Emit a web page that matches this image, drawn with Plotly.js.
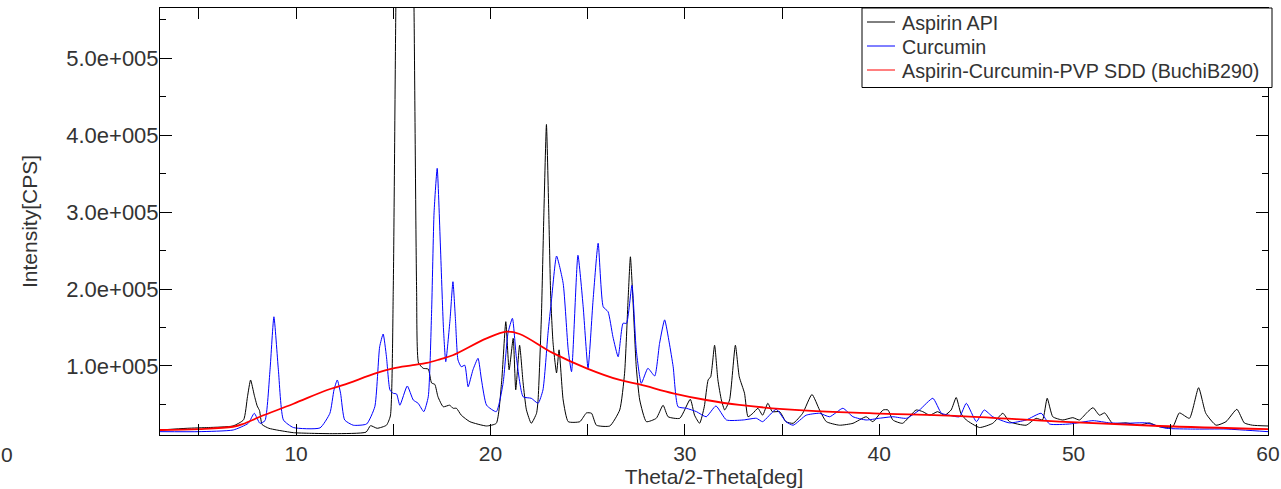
<!DOCTYPE html>
<html>
<head>
<meta charset="utf-8">
<script src="https://cdn.plot.ly/plotly-3.0.1.min.js"></script>
<style>
  html, body { margin: 0; padding: 0; background: #fff; }
  #chart { width: 1281px; height: 489px; }
</style>
</head>
<body>
<div id="chart"></div>
<script>
// ---- Data (2-theta in degrees, intensity in CPS) ----
const seriesNames = ["Aspirin API", "Curcumin", "Aspirin-Curcumin-PVP SDD (BuchiB290)"];
const seriesColors = ["#000000", "#0000ff", "#ff0000"];

const aspirinX = [3.0, 4.4, 5.5, 6.75, 7.3, 7.5, 7.66, 7.85, 8.0, 8.12, 8.25, 8.6, 9.0, 9.86, 10.7, 12.0, 13.6, 13.83, 14.17, 14.65, 14.85, 15.0, 15.13, 15.3, 15.6, 15.9, 16.07, 16.2, 16.3, 16.54, 16.8, 16.97, 17.14, 17.3, 17.57, 17.9, 18.08, 18.25, 18.5, 18.94, 19.8, 20.3, 20.57, 20.79, 20.96, 21.17, 21.3, 21.5, 21.68, 21.85, 22.1, 22.37, 22.45, 22.62, 22.75, 22.88, 23.0, 23.1, 23.22, 23.4, 23.53, 23.74, 24.0, 24.6, 24.94, 25.2, 25.45, 26.14, 26.65, 26.9, 27.08, 27.2, 27.33, 27.5, 27.68, 28.02, 28.53, 28.88, 29.14, 29.74, 30.28, 30.5, 30.76, 31.0, 31.2, 31.33, 31.53, 31.7, 31.88, 32.05, 32.3, 32.6, 32.8, 33.07, 33.25, 33.5, 33.76, 34.0, 34.27, 34.5, 34.88, 35.2, 35.57, 36.06, 36.54, 36.93, 37.28, 37.96, 38.65, 39.33, 39.67, 40.2, 40.45, 40.7, 41.2, 41.9, 42.24, 42.6, 43.0, 43.37, 43.7, 43.96, 44.2, 44.48, 45.16, 45.84, 46.36, 46.7, 47.56, 48.07, 48.4, 48.64, 48.93, 49.44, 49.96, 50.3, 50.73, 51.0, 51.33, 51.6, 52.0, 52.7, 53.4, 53.9, 54.4, 55.1, 55.44, 55.96, 56.43, 56.8, 57.33, 57.84, 58.4, 58.78, 59.2, 60.0];
const aspirinY = [16800, 19000, 20000, 22000, 30000, 60000, 81800, 62000, 48000, 42000, 24000, 19000, 16800, 13300, 12500, 12000, 14000, 22400, 19000, 23000, 35000, 200000, 560000, 900000, 800000, 900000, 560000, 200000, 104000, 97000, 96000, 78000, 76000, 60000, 47000, 49000, 45000, 45000, 36000, 27600, 22000, 25500, 78000, 157600, 95000, 136000, 69000, 127000, 78000, 43000, 25500, 38500, 56000, 164000, 300000, 414000, 300000, 190000, 130000, 91000, 121000, 55800, 27600, 27600, 39000, 38500, 23000, 22000, 42800, 90500, 186000, 242000, 186000, 99000, 55800, 27600, 32000, 49000, 34000, 32000, 56700, 36000, 25500, 47000, 82000, 86000, 127000, 82000, 55800, 42800, 55800, 127000, 86000, 64500, 34000, 38500, 45000, 36000, 51500, 40600, 40600, 27600, 25500, 38500, 63000, 42800, 27600, 23000, 25500, 34000, 27600, 42800, 42800, 29800, 25500, 42800, 40600, 36000, 40600, 36000, 42800, 59000, 38500, 29800, 20000, 25500, 38500, 27600, 23000, 32000, 29800, 58000, 34000, 29800, 32800, 29800, 40600, 45800, 36000, 39000, 25500, 26000, 23000, 26000, 21000, 21000, 39000, 32000, 71800, 38500, 23000, 27600, 43700, 26000, 23000, 22000];

const curcuminX = [3.0, 5.0, 6.77, 7.54, 7.85, 8.14, 8.4, 8.66, 8.86, 9.09, 9.35, 9.86, 11.23, 11.74, 11.95, 12.12, 12.29, 12.5, 12.94, 13.63, 14.05, 14.3, 14.48, 14.65, 14.83, 15.0, 15.17, 15.34, 15.72, 16.03, 16.28, 16.57, 16.8, 16.97, 17.1, 17.26, 17.42, 17.58, 17.7, 17.92, 18.07, 18.2, 18.33, 18.5, 18.68, 18.85, 19.1, 19.36, 19.54, 19.8, 20.3, 20.65, 20.9, 21.13, 21.33, 21.68, 22.1, 22.45, 22.7, 22.96, 23.14, 23.4, 23.74, 24.0, 24.17, 24.5, 24.77, 25.02, 25.28, 25.54, 25.8, 26.05, 26.3, 26.57, 26.82, 27.0, 27.28, 27.5, 27.76, 28.1, 28.45, 28.7, 28.96, 29.2, 29.4, 29.65, 30.08, 30.6, 31.1, 31.6, 32.14, 33.0, 33.68, 34.0, 34.7, 35.2, 35.57, 36.24, 36.93, 37.45, 38.13, 38.65, 39.33, 40.0, 40.7, 41.4, 42.07, 42.76, 43.2, 43.6, 44.13, 44.48, 45.0, 45.4, 45.84, 46.7, 47.56, 48.33, 48.76, 49.8, 51.0, 51.86, 52.7, 53.73, 54.76, 56.13, 57.84, 60.0];
const curcuminY = [14600, 14600, 16800, 25500, 38500, 25500, 28900, 95000, 164000, 95000, 29800, 20000, 19500, 38500, 68800, 81800, 64500, 29800, 23000, 24600, 47000, 125000, 141600, 112000, 68800, 64500, 63600, 49000, 74000, 55800, 51500, 40600, 60000, 168500, 300000, 357000, 260000, 150000, 105600, 160000, 209600, 160000, 107800, 99000, 101000, 73000, 95000, 110000, 81800, 49000, 40600, 77500, 142500, 162000, 112000, 60000, 58000, 51500, 68800, 142500, 186000, 243000, 207500, 121000, 92600, 244000, 177000, 97000, 186000, 259600, 177000, 170600, 138000, 112000, 155500, 155500, 205000, 121000, 77500, 97000, 87000, 129500, 160000, 130000, 99000, 47000, 45000, 40600, 34000, 48000, 29800, 29800, 32000, 27600, 43700, 27600, 23000, 36000, 38500, 34000, 45000, 34000, 29800, 32000, 34000, 32000, 42800, 58000, 38500, 36000, 34000, 51500, 27600, 42800, 34000, 26000, 29800, 38500, 24600, 24600, 28900, 26000, 25500, 26000, 19000, 18000, 18000, 14600];

const sddX = [3.0, 5.0, 6.75, 7.27, 8.14, 9.84, 11.6, 12.4, 14.16, 15.0, 16.0, 16.73, 17.4, 18.06, 19.8, 20.84, 21.5, 23.2, 24.95, 26.65, 27.68, 29.4, 31.1, 32.8, 36.3, 39.7, 44.4, 49.27, 54.4, 60.0];
const sddY = [16800, 18000, 21000, 24600, 34000, 50600, 68800, 75000, 91000, 97000, 101000, 104000, 108700, 114000, 136000, 144600, 141600, 117000, 97000, 81800, 76000, 64500, 55800, 49300, 41900, 38500, 34500, 27600, 22000, 18000];

const yTickVals = [100000, 200000, 300000, 400000, 500000];
const yTickText = ["1.0e+005", "2.0e+005", "3.0e+005", "4.0e+005", "5.0e+005"];
const xTickVals = [10, 20, 30, 40, 50, 60];
const xTickText = ["10", "20", "30", "40", "50", "60"];

// ---- Chart ----
const FONT = "Liberation Sans, Arial, sans-serif";
const TXT = "#333333";
const M = { l: 160, r: 13, t: 8, b: 54 };
const W = 1281, H = 489;
const PW = W - M.l - M.r, PH = H - M.t - M.b;
const px2x = p => (p - M.l) / PW;          // pixel -> paper x
const px2y = p => (H - M.b - p) / PH;      // pixel -> paper y

const traces = [
  { x: aspirinX, y: aspirinY, name: seriesNames[0], type: "scatter", mode: "lines",
    line: { color: seriesColors[0], width: 1, shape: "spline", smoothing: 0.5 } },
  { x: curcuminX, y: curcuminY, name: seriesNames[1], type: "scatter", mode: "lines",
    line: { color: seriesColors[1], width: 1, shape: "spline", smoothing: 0.5 } },
  { x: sddX, y: sddY, name: seriesNames[2], type: "scatter", mode: "lines",
    line: { color: seriesColors[2], width: 1.8, shape: "spline", smoothing: 1 } }
];

// Legend box (drawn with shapes + annotations to match the reference geometry)
const shapes = [
  { type: "rect", xref: "paper", yref: "paper", layer: "above",
    x0: px2x(862), x1: px2x(1272), y0: px2y(87.5), y1: px2y(8),
    line: { color: "#000000", width: 1 }, fillcolor: "#ffffff" }
];
const annotations = [
  { text: "0", xref: "paper", yref: "paper", x: px2x(-1), y: px2y(454),
    xanchor: "left", yanchor: "middle", showarrow: false,
    font: { family: FONT, size: 21, color: TXT } }
];
const rowY = [22, 46, 70];
seriesNames.forEach((nm, i) => {
  shapes.push({ type: "line", xref: "paper", yref: "paper", layer: "above",
    x0: px2x(867), x1: px2x(895), y0: px2y(rowY[i]), y1: px2y(rowY[i]),
    line: { color: seriesColors[i], width: 1 } });
  annotations.push({ text: nm, xref: "paper", yref: "paper",
    x: px2x(900), y: px2y(rowY[i] + 1), xanchor: "left", yanchor: "middle",
    showarrow: false, font: { family: FONT, size: 19.7, color: TXT } });
});

const layout = {
  width: W, height: H,
  margin: { l: M.l, r: M.r, t: M.t, b: M.b, pad: 0 },
  paper_bgcolor: "#ffffff", plot_bgcolor: "#ffffff",
  font: { family: FONT, size: 21, color: TXT },
  showlegend: false,
  xaxis: {
    range: [3, 60], showgrid: false, zeroline: false,
    showline: true, linecolor: "#000000", linewidth: 1, mirror: "ticks",
    tickmode: "array", tickvals: xTickVals, ticktext: xTickText,
    ticks: "inside", ticklen: 11, tickcolor: "#000000", tickwidth: 1,
    minor: { tickmode: "linear", tick0: 0, dtick: 5, ticks: "inside", ticklen: 11, tickcolor: "#000000", tickwidth: 1, showgrid: false },
    tickfont: { family: FONT, size: 21, color: TXT },
    title: { text: "Theta/2-Theta[deg]", font: { family: FONT, size: 21, color: TXT }, standoff: 4 }
  },
  yaxis: {
    range: [10270, 565500], showgrid: false, zeroline: false,
    showline: true, linecolor: "#000000", linewidth: 1, mirror: "ticks",
    tickmode: "array", tickvals: yTickVals, ticktext: yTickText,
    ticks: "inside", ticklen: 12, tickcolor: "#000000", tickwidth: 1,
    ticklabelstandoff: -4,
    minor: { tickmode: "linear", tick0: 0, dtick: 50000, ticks: "inside", ticklen: 6, tickcolor: "#000000", tickwidth: 1, showgrid: false },
    tickfont: { family: FONT, size: 22, color: TXT },
    title: { text: "Intensity[CPS]", font: { family: FONT, size: 21, color: TXT }, standoff: 22 }
  },
  shapes: shapes,
  annotations: annotations
};

Plotly.newPlot("chart", traces, layout, { displayModeBar: false, staticPlot: true });
</script>
</body>
</html>
